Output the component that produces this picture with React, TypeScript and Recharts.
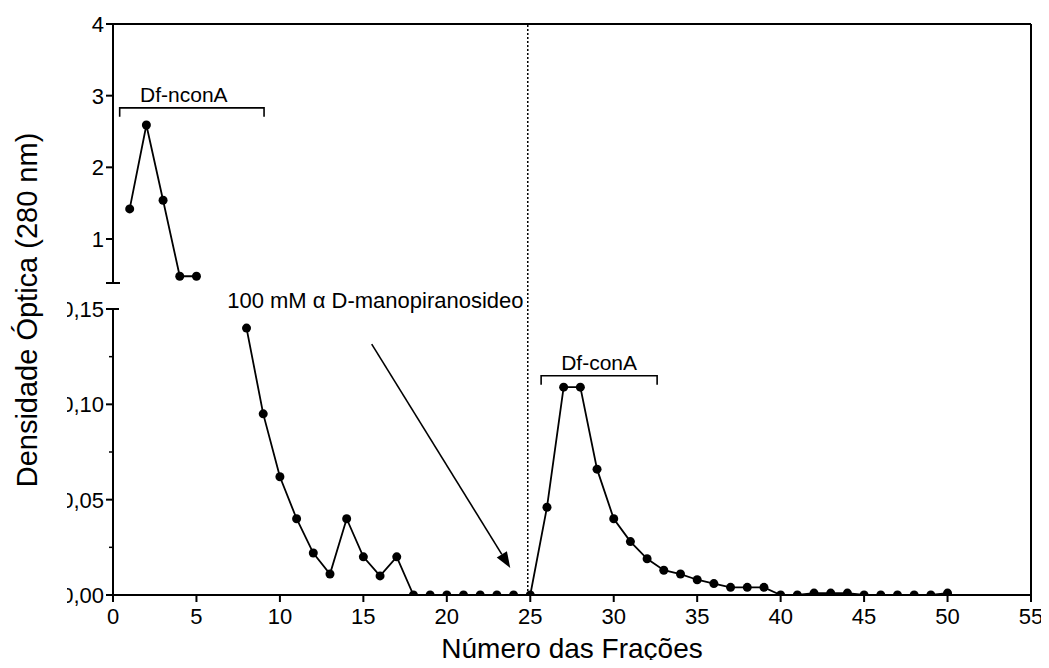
import React from "react";
import { LineChart, Line, XAxis, YAxis, ReferenceLine, ReferenceDot } from "recharts";

// fractions 1-5 (upper scale, 0.39-4)
const topFractions = [1, 2, 3, 4, 5];
const topDensity = [1.42, 2.59, 1.54, 0.48, 0.48];

// fractions 8-50 (lower scale, 0-0.15)
const lowFractions = [
  8, 9, 10, 11, 12, 13, 14, 15, 16, 17, 18, 19, 20, 21, 22, 23, 24, 25, 26, 27, 28, 29,
  30, 31, 32, 33, 34, 35, 36, 37, 38, 39, 40, 41, 42, 43, 44, 45, 46, 47, 48, 49, 50,
];
const lowDensity = [
  0.14, 0.095, 0.062, 0.04, 0.022, 0.011, 0.04, 0.02, 0.01, 0.02, 0, 0, 0, 0, 0, 0, 0, 0,
  0.046, 0.109, 0.109, 0.066, 0.04, 0.028, 0.019, 0.013, 0.011, 0.008, 0.006, 0.004, 0.004,
  0.004, 0, 0, 0.001, 0.001, 0.001, 0, 0, 0, 0, 0, 0.001,
];

const xTicks = [0, 5, 10, 15, 20, 25, 30, 35, 40, 45, 50, 55];
const topBreak = 0.386;
const topTicks = [topBreak, 1, 2, 3, 4];
const lowTicks = [0, 0.025, 0.05, 0.075, 0.1, 0.125, 0.15];
const lowMajor = [0, 0.05, 0.1, 0.15];

const elutionX = 24.85;
const nconBracket = { x1: 0.4, x2: 9.05, y: 2.83 };
const conBracket = { x1: 25.65, x2: 32.6, y: 0.115 };
const arrowFrom = { x: 15.5, y: 0.1316 };
const arrowTo = { x: 23.8, y: 0.0142 };

// layout (pixels)
const W = 1049;
const H = 668;
const AXIS_W = 113;
const RIGHT = 18;
const TOP_Y = 24;
const BREAK_Y = 283;
const LOW_TOP = 309;
const LOW_BOTTOM = 595;
const frameTopLow = ((LOW_BOTTOM - TOP_Y) / (LOW_BOTTOM - LOW_TOP)) * 0.15;

const topData = topFractions.map((f, i) => ({ f, v: topDensity[i] }));
const lowData = lowFractions.map((f, i) => ({ f, v: lowDensity[i] }));

const FONT = "'Liberation Sans', Arial, sans-serif";

const TopTick = (props: any) => {
  const { x, y, payload } = props;
  if (payload.value === topBreak) {
    return <line x1={x - 7} x2={x + 7} y1={y} y2={y} stroke="#000" strokeWidth={2} />;
  }
  return (
    <g>
      <line x1={x - 7} x2={x} y1={y} y2={y} stroke="#000" strokeWidth={2} />
      <text x={x - 9} y={y} dy="0.36em" textAnchor="end" fontSize={22} fill="#000">
        {payload.value}
      </text>
    </g>
  );
};

const LowTick = (props: any) => {
  const { x, y, payload, index } = props;
  const v = payload.value;
  if (!lowMajor.includes(v)) {
    return <line x1={x - 4} x2={x} y1={y} y2={y} stroke="#000" strokeWidth={1.5} />;
  }
  const id = `lowclip${index}`;
  return (
    <g>
      <defs>
        <clipPath id={id}>
          <rect x={67} y={y - 20} width={60} height={40} />
        </clipPath>
      </defs>
      <line x1={x - 7} x2={v === 0.15 ? x + 6 : x} y1={y} y2={y} stroke="#000" strokeWidth={2} />
      <text x={x - 9} y={y} dy="0.36em" textAnchor="end" fontSize={22} fill="#000" clipPath={`url(#${id})`}>
        {v.toFixed(2).replace(".", ",")}
      </text>
    </g>
  );
};

const Bracket = (text: string, shift: number) => (p: any) => {
  const { x1, x2, y1 } = p;
  return (
    <g>
      <path d={`M${x1},${y1 + 9} V${y1} H${x2} V${y1 + 9}`} fill="none" stroke="#000" strokeWidth={1.6} />
      <text x={(x1 + x2) / 2 + shift} y={y1 - 6} textAnchor="middle" fontSize={21} fill="#000">
        {text}
      </text>
    </g>
  );
};

const Arrow = (p: any) => {
  const { x1, y1, x2, y2 } = p;
  const a = Math.atan2(y2 - y1, x2 - x1);
  const len = 16;
  const hw = 6;
  const bx = x2 - len * Math.cos(a);
  const by = y2 - len * Math.sin(a);
  const nx = -Math.sin(a) * hw;
  const ny = Math.cos(a) * hw;
  return (
    <g>
      <line x1={x1} y1={y1} x2={bx} y2={by} stroke="#000" strokeWidth={1.6} />
      <polygon points={`${x2},${y2} ${bx + nx},${by + ny} ${bx - nx},${by - ny}`} fill="#000" />
    </g>
  );
};

const lineProps = {
  type: "linear" as const,
  dataKey: "v",
  stroke: "#000",
  strokeWidth: 1.8,
  dot: { r: 4.5, fill: "#000", stroke: "#000", strokeWidth: 0 },
  activeDot: false as const,
  isAnimationActive: false,
};

export default function App() {
  return (
    <div style={{ position: "relative", width: W, height: H, margin: -8, fontFamily: FONT, background: "#fff" }}>
      <div style={{ position: "absolute", left: 0, top: 0 }}>
        <LineChart width={W} height={H} data={lowData} margin={{ top: LOW_TOP, right: RIGHT, bottom: 0, left: 0 }}>
          <XAxis
            dataKey="f"
            type="number"
            domain={[0, 55]}
            ticks={xTicks}
            interval={0}
            height={H - LOW_BOTTOM}
            tickSize={7}
            tickMargin={6}
            stroke="#000"
            strokeWidth={2}
            tickLine={{ stroke: "#000", strokeWidth: 2 }}
            tick={{ fill: "#000", fontSize: 22 }}
            label={{ value: "Número das Frações", position: "insideBottom", offset: 10, fontSize: 28, fill: "#000" }}
          />
          <YAxis
            type="number"
            domain={[0, 0.15]}
            ticks={lowTicks}
            interval={0}
            allowDataOverflow
            width={AXIS_W}
            tickSize={0}
            tickMargin={0}
            tickLine={false}
            stroke="#000"
            strokeWidth={2}
            tick={<LowTick />}
          />
          <ReferenceLine
            segment={[{ x: 55, y: 0 }, { x: 55, y: frameTopLow }]}
            ifOverflow="visible"
            stroke="#000"
            strokeWidth={2}
          />
          <ReferenceLine
            segment={[{ x: elutionX, y: 0 }, { x: elutionX, y: frameTopLow }]}
            ifOverflow="visible"
            stroke="#000"
            strokeWidth={1.5}
            strokeDasharray="2 2"
          />
          <ReferenceLine
            segment={[{ x: conBracket.x1, y: conBracket.y }, { x: conBracket.x2, y: conBracket.y }]}
            ifOverflow="visible"
            shape={Bracket("Df-conA", 0)}
          />
          <ReferenceLine
            segment={[arrowFrom, arrowTo]}
            ifOverflow="visible"
            shape={Arrow}
          />
          <ReferenceDot
            x={15.72}
            y={0.1547}
            r={0}
            ifOverflow="visible"
            label={{ value: "100 mM α D-manopiranosideo", position: "center", fontSize: 22, fill: "#000" }}
          />
          <Line {...lineProps} />
        </LineChart>
      </div>
      <div style={{ position: "absolute", left: 0, top: 0 }}>
        <LineChart width={W} height={H} data={topData} margin={{ top: TOP_Y, right: RIGHT, bottom: H - BREAK_Y, left: 0 }}>
          <XAxis dataKey="f" type="number" domain={[0, 55]} hide />
          <YAxis
            type="number"
            domain={[topBreak, 4]}
            ticks={topTicks}
            interval={0}
            allowDataOverflow
            width={AXIS_W}
            tickSize={0}
            tickMargin={0}
            tickLine={false}
            stroke="#000"
            strokeWidth={2}
            tick={<TopTick />}
          />
          <ReferenceLine y={4} stroke="#000" strokeWidth={2} />
          <ReferenceLine
            segment={[{ x: nconBracket.x1, y: nconBracket.y }, { x: nconBracket.x2, y: nconBracket.y }]}
            ifOverflow="visible"
            shape={Bracket("Df-nconA", -8)}
          />
          <Line {...lineProps} />
        </LineChart>
      </div>
      <svg width={W} height={H} style={{ position: "absolute", left: 0, top: 0, pointerEvents: "none" }}>
        <text
          transform="translate(27,310) rotate(-90)"
          textAnchor="middle"
          dominantBaseline="central"
          fontSize={29}
          fill="#000"
        >
          Densidade Óptica (280 nm)
        </text>
      </svg>
    </div>
  );
}
